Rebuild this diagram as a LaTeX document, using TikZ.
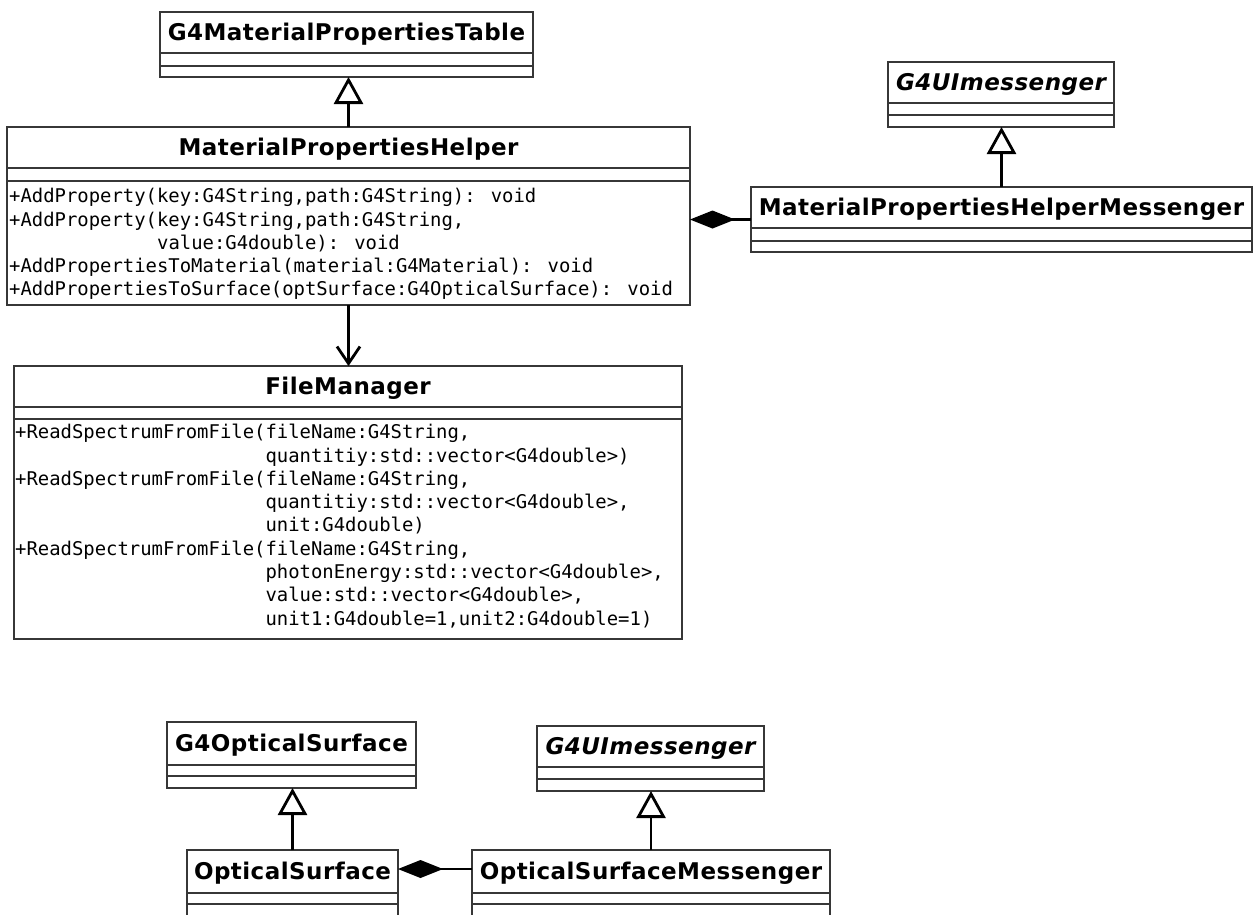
\documentclass[tikz,border=0pt]{standalone}
\usepackage{fontspec}
\setmainfont{DejaVu Sans}
\newfontfamily\titlefont[LetterSpace=2]{DejaVu Sans}
\newfontfamily\monofont{DejaVu Sans Mono}
\usetikzlibrary{arrows.meta,calc}
\definecolor{boxgray}{RGB}{55,55,55}
\tikzset{
  box/.style={draw=boxgray, line width=1.2pt, inner sep=0pt, outer sep=0pt, anchor=north west, fill=white},
  divline/.style={draw=boxgray, line width=1.2pt},
  ttl/.style={font=\titlefont\bfseries\fontsize{23}{28}\selectfont, inner sep=0pt, text height=16pt, text depth=0pt, anchor=center},
  meth/.style={font=\monofont\fontsize{18.9}{23}\selectfont, inner sep=0pt, text height=13.5pt, text depth=0pt, anchor=west},
  gen/.style={line width=2.8pt, -{Triangle[open, length=27pt, width=29pt, fill=white]}},
  assoc/.style={line width=2.8pt, -{Straight Barb[length=17pt, width=23pt]}},
  comp/.style={line width=2.8pt, -{Diamond[length=45pt, width=18pt]}},
}
\newcommand\umlbox[8]{%
  \node[box, minimum width=#4pt, minimum height=#5pt] (#1) at (#2,#3) {};
  \draw[divline] ($(#1.north west)+(0,#6)$) -- ($(#1.north east)+(0,#6)$);
  \draw[divline] ($(#1.north west)+(0,#7)$) -- ($(#1.north east)+(0,#7)$);
  \node[ttl] (#1-t) at ($(#1.north)+(0,#6/2)$) {#8};
}
\begin{document}
\begin{tikzpicture}[x=1pt,y=-1pt]
\useasboundingbox (0,0) rectangle (1257,914);
\clip (0,0) rectangle (1257,914);
\fill[white] (0,0) rectangle (1257,914);

\umlbox{tbl}{160}{12}{373}{65}{41}{54}{G4MaterialPropertiesTable}
\umlbox{uimsg}{888}{62}{226}{65}{41}{53}{\itshape G4UImessenger}
\umlbox{mph}{7}{127}{683}{178}{41}{54}{MaterialPropertiesHelper}
\umlbox{mphm}{751}{187}{501}{65}{41}{54}{MaterialPropertiesHelperMessenger}
\umlbox{fm}{14}{366}{668}{273}{41}{53}{FileManager}
\umlbox{g4os}{167}{722}{249}{66}{43}{54}{G4OpticalSurface}
\umlbox{uimsgb}{537}{726}{227}{65}{41}{53}{\itshape G4UImessenger}
\umlbox{os}{187}{850}{211}{80}{43}{54}{OpticalSurface}
\umlbox{osm}{472}{850}{358}{80}{43}{54}{OpticalSurfaceMessenger}

% methods of MaterialPropertiesHelper
\node[meth] (m1) at (9,196) {+AddProperty(key:G4String,path:G4String): void};
\node[meth] (m2) at (9,219.3) {+AddProperty(key:G4String,path:G4String,};
\node[meth] (m3) at (9,242.6) {\phantom{+AddProperty(}value:G4double): void};
\node[meth] (m4) at (9,265.9) {+AddPropertiesToMaterial(material:G4Material): void};
\node[meth] (m5) at (9,289.2) {+AddPropertiesToSurface(optSurface:G4OpticalSurface): void};

% methods of FileManager
\node[meth] (f1) at (15,432) {+ReadSpectrumFromFile(fileName:G4String,};
\node[meth] (f2) at (15,455.3) {\phantom{+ReadSpectrumFromFile(}quantitiy:std::vector<G4double>)};
\node[meth] (f3) at (15,478.6) {+ReadSpectrumFromFile(fileName:G4String,};
\node[meth] (f4) at (15,501.9) {\phantom{+ReadSpectrumFromFile(}quantitiy:std::vector<G4double>,};
\node[meth] (f5) at (15,525.2) {\phantom{+ReadSpectrumFromFile(}unit:G4double)};
\node[meth] (f6) at (15,548.5) {+ReadSpectrumFromFile(fileName:G4String,};
\node[meth] (f7) at (15,571.8) {\phantom{+ReadSpectrumFromFile(}photonEnergy:std::vector<G4double>,};
\node[meth] (f8) at (15,595.1) {\phantom{+ReadSpectrumFromFile(}value:std::vector<G4double>,};
\node[meth] (f9) at (15,618.4) {\phantom{+ReadSpectrumFromFile(}unit1:G4double=1,unit2:G4double=1)};

% connectors
\draw[gen] (mph.north) -- (mph.north |- tbl.south);
\draw[gen] (mphm.north) -- (mphm.north |- uimsg.south);
\draw[gen] (os.north) -- (os.north |- g4os.south);
\draw[gen] (osm.north) -- (osm.north |- uimsgb.south);
\draw[assoc] (mph.south) -- (mph.south |- fm.north);
\draw[comp] (mphm.west) -- (mphm.west -| mph.east);
\draw[comp] ([yshift=-19pt]osm.north west) -- ([yshift=-19pt]osm.north west -| os.east);
\end{tikzpicture}
\end{document}
